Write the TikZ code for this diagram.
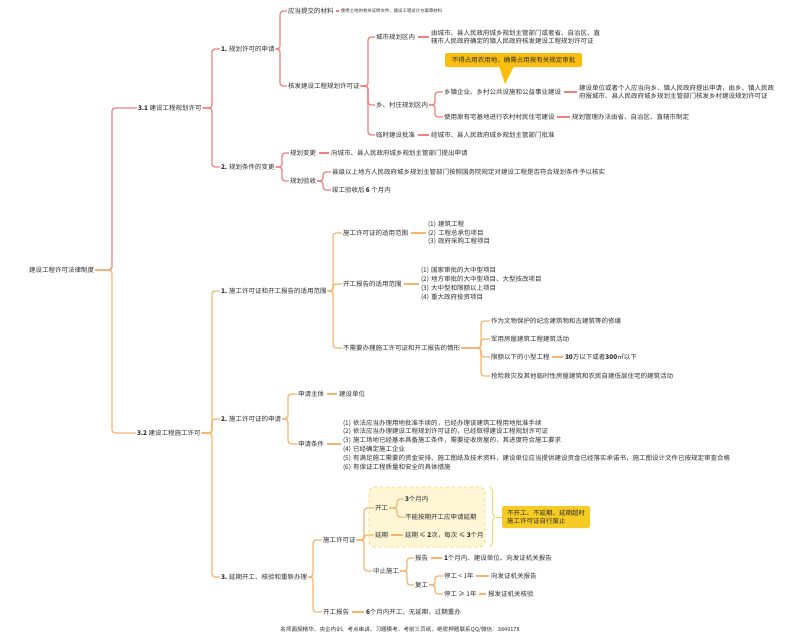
\documentclass[tikz,border=0pt]{standalone}
\usepackage{fontspec}
\setmainfont{Noto Sans CJK SC}
\usetikzlibrary{calc,decorations.pathreplacing}
\definecolor{txt}{HTML}{2E2E2E}
\definecolor{rl}{HTML}{F47E7E}
\definecolor{ol}{HTML}{F8B46C}
\definecolor{cy}{HTML}{F9BE10}
\definecolor{by}{HTML}{F6CB24}
\definecolor{bf}{HTML}{FFF6D6}
\definecolor{bd}{HTML}{F5D46A}
\newcommand\fsz{\fontsize{6.5}{8.8}\selectfont}
\newcommand\cn[4][7pt]{\draw[#2] (#3.east) -- ($(#4.west |- #3.east)+(-#1,0)$) |- (#4.west);}
\newcommand\sn[3]{\draw[#1, rounded corners=0pt] ([xshift=1.5pt]#2.east) -- ($(#3.west |- #2.east)+(-1.5pt,0)$);}
\tikzset{
 tx/.style={anchor=west, inner sep=0.8pt, text=txt, font=\fsz, align=left},
 rline/.style={draw=rl, line width=1.2pt, rounded corners=3pt},
 oline/.style={draw=ol, line width=1.2pt, rounded corners=3pt},
 callbox/.style={fill=cy, rounded corners=2pt, text=txt, font=\fsz, minimum width=137pt, minimum height=14pt, inner sep=1pt},
 ybox/.style={fill=by, rounded corners=2pt, text=txt, font=\fsz, align=left, minimum width=88pt, minimum height=22pt, inner sep=2pt},
 grpbox/.style={draw=bd, dashed, fill=bf, rounded corners=6pt, line width=0.8pt, minimum width=116pt, minimum height=60pt},
}
\begin{document}
\begin{tikzpicture}[x=1pt,y=-1pt]
\fill[white] (0,0) rectangle (800,640);
\useasboundingbox (0,0) rectangle (800,640);

% backgrounds
\node[grpbox] (grp) at (427,517) {};
\fill[cy] (499,66) -- (514,66) -- (505,84) -- cycle;
\node[callbox] (cal) at (513.5,60) {不得占用农用地，确需占用按有关规定审批};

% root
\node[tx] (root) at (28,270) {建设工程许可法律制度};

% 3.1 branch
\node[tx] (a1) at (137,108) {\textbf{3.1} 建设工程规划许可};
\node[tx] (b1) at (220,49) {\textbf{1.} 规划许可的申请};
\node[tx] (c1) at (287,11) {应当提交的材料};
\node[tx, font=\fontsize{4.4}{5}\selectfont] (c1x) at (340,11) {使用土地的有关证明文件、建设工程设计方案等材料};
\node[tx] (c2) at (287,86) {核发建设工程规划许可证};
\node[tx] (d1) at (375,37) {城市规划区内};
\node[tx] (d1x) at (430,37) {由城市、县人民政府城乡规划主管部门或者省、自治区、直\\辖市人民政府确定的镇人民政府核发建设工程规划许可证};
\node[tx] (d2) at (375,105) {乡、村庄规划区内};
\node[tx] (e1) at (443,92) {乡镇企业、乡村公共设施和公益事业建设};
\node[tx] (e1x) at (578,92) {建设单位或者个人应当向乡、镇人民政府提出申请，由乡、镇人民政\\府报城市、县人民政府城乡规划主管部门核发乡村建设规划许可证};
\node[tx] (e2) at (443,117) {使用原有宅基地进行农村村民住宅建设};
\node[tx] (e2x) at (571,117) {规划管理办法由省、自治区、直辖市制定};
\node[tx] (d3) at (375,135) {临时建设批准};
\node[tx] (d3x) at (430,135) {经城市、县人民政府城乡规划主管部门批准};
\node[tx] (b2) at (220,167) {\textbf{2.} 规划条件的变更};
\node[tx] (f1) at (289,153) {规划变更};
\node[tx] (f1x) at (330,153) {向城市、县人民政府城乡规划主管部门提出申请};
\node[tx] (f2) at (289,181) {规划验收};
\node[tx] (g1) at (331,172) {县级以上地方人民政府城乡规划主管部门按照国务院规定对建设工程是否符合规划条件予以核实};
\node[tx] (g2) at (331,190) {竣工验收后 \textbf{6} 个月内};

% 3.2 branch
\node[tx] (a2) at (136,433) {\textbf{3.2} 建设工程施工许可};
\node[tx] (h1) at (220,291) {\textbf{1.} 施工许可证和开工报告的适用范围};
\node[tx] (i1) at (342,233) {施工许可证的适用范围};
\node[tx] (i1x) at (427,233) {(1)\,\,建筑工程\\(2)\,\,工程总承包项目\\(3)\,\,政府采购工程项目};
\node[tx] (i2) at (342,284) {开工报告的适用范围};
\node[tx] (i2x) at (420,284) {(1)\,\,国家审批的大中型项目\\(2)\,\,地方审批的大中型项目、大型技改项目\\(3)\,\,大中型和限额以上项目\\(4)\,\,重大政府投资项目};
\node[tx] (i3) at (342,348) {不需要办理施工许可证和开工报告的情形};
\node[tx] (j1) at (490,321) {作为文物保护的纪念建筑物和古建筑等的修缮};
\node[tx] (j2) at (490,339) {军用房屋建筑工程建筑活动};
\node[tx] (j3) at (490,357) {限额以下的小型工程};
\node[tx] (j3x) at (564,357) {\textbf{30}万以下或者\textbf{300}㎡以下};
\node[tx] (j4) at (490,376) {抢险救灾及其他临时性房屋建筑和农民自建低层住宅的建筑活动};
\node[tx] (h2) at (220,419) {\textbf{2.} 施工许可证的申请};
\node[tx] (k1) at (297,394) {申请主体};
\node[tx] (k1x) at (338,394) {建设单位};
\node[tx] (k2) at (297,444) {申请条件};
\node[tx] (k2x) at (342,445) {(1)\,\,依法应当办理用地批准手续的，已经办理该建筑工程用地批准手续\\(2)\,\,依法应当办理建设工程规划许可证的，已经取得建设工程规划许可证\\(3)\,\,施工场地已经基本具备施工条件，需要征收房屋的，其进度符合施工要求\\(4)\,\,已经确定施工企业\\(5)\,\,有满足施工需要的资金安排、施工图纸及技术资料，建设单位应当提供建设资金已经落实承诺书，施工图设计文件已按规定审查合格\\(6)\,\,有保证工程质量和安全的具体措施};
\node[tx] (h3) at (220,577) {\textbf{3.} 延期开工、核验和重新办理};
\node[tx] (l1) at (322,540) {施工许可证};
\node[tx] (m1) at (374,508) {开工};
\node[tx] (n1) at (404,499) {\textbf{3}个月内};
\node[tx] (n2) at (404,517) {不能按期开工应申请延期};
\node[tx] (m2) at (374,535) {延期};
\node[tx] (m2x) at (404,535) {延期 ≤ \textbf{2}次，每次 ≤ \textbf{3}个月};
\node[tx] (m3) at (372,571) {中止施工};
\node[tx] (o1) at (414,558) {报告};
\node[tx] (o1x) at (443,558) {\textbf{1}个月内、建设单位、向发证机关报告};
\node[tx] (o2) at (414,585) {复工};
\node[tx] (p1) at (443,576) {停工 < 1年};
\node[tx] (p1x) at (490,576) {向发证机关报告};
\node[tx] (p2) at (443,594) {停工 ≥ 1年};
\node[tx] (p2x) at (487,594) {报发证机关核验};
\node[tx] (l2) at (322,612) {开工报告};
\node[tx] (l2x) at (365,612) {\textbf{6}个月内开工，无延期，过期重办};

% yellow side note
\node[ybox] (ab) at (546,517) {不开工、不延期、延期超时\\施工许可证自行废止};
\draw[decorate, decoration={brace, amplitude=5pt}, draw=bd, line width=1pt] (490,487) -- (490,547);
\coordinate (bt) at (496,517);
\draw[bd, line width=1pt] (bt) -- (ab.west);

% footer
\node[text=txt, font=\fontsize{5.6}{6}\selectfont, inner sep=0pt] (ft) at (400,630) {名师面授精华、央企内训、考点串讲、习题模考、考前三页纸，绝密押题联系QQ/微信：3849178};

% connectors 3.1
\cn[25pt]{rline}{root}{a1}
\cn[8pt]{rline}{a1}{b1}
\cn[8pt]{rline}{a1}{b2}
\cn{rline}{b1}{c1}
\cn{rline}{b1}{c2}
\sn{rline}{c1}{c1x}
\cn{rline}{c2}{d1}
\cn{rline}{c2}{d2}
\cn{rline}{c2}{d3}
\sn{rline}{d1}{d1x}
\cn[8pt]{rline}{d2}{e1}
\cn[8pt]{rline}{d2}{e2}
\sn{rline}{e1}{e1x}
\sn{rline}{e2}{e2x}
\sn{rline}{d3}{d3x}
\cn{rline}{b2}{f1}
\cn{rline}{b2}{f2}
\sn{rline}{f1}{f1x}
\cn[8pt]{rline}{f2}{g1}
\cn[8pt]{rline}{f2}{g2}

% connectors 3.2
\cn[24pt]{oline}{root}{a2}
\cn[8pt]{oline}{a2}{h1}
\cn[8pt]{oline}{a2}{h2}
\cn[8pt]{oline}{a2}{h3}
\cn[9pt]{oline}{h1}{i1}
\cn[9pt]{oline}{h1}{i2}
\cn[9pt]{oline}{h1}{i3}
\sn{oline}{i1}{i1x}
\sn{oline}{i2}{i2x}
\cn[9pt]{oline}{i3}{j1}
\cn[9pt]{oline}{i3}{j2}
\cn[9pt]{oline}{i3}{j3}
\cn[9pt]{oline}{i3}{j4}
\sn{oline}{j3}{j3x}
\cn[9pt]{oline}{h2}{k1}
\cn[9pt]{oline}{h2}{k2}
\sn{oline}{k1}{k1x}
\sn{oline}{k2}{k2x}
\cn[9pt]{oline}{h3}{l1}
\cn[9pt]{oline}{h3}{l2}
\cn[10pt]{oline}{l1}{m1}
\cn[10pt]{oline}{l1}{m2}
\cn[8pt]{oline}{l1}{m3}
\cn{oline}{m1}{n1}
\cn{oline}{m1}{n2}
\sn{oline}{m2}{m2x}
\cn{oline}{m3}{o1}
\cn{oline}{m3}{o2}
\sn{oline}{o1}{o1x}
\cn[8pt]{oline}{o2}{p1}
\cn[8pt]{oline}{o2}{p2}
\sn{oline}{p1}{p1x}
\sn{oline}{p2}{p2x}
\sn{oline}{l2}{l2x}
\end{tikzpicture}
\end{document}
